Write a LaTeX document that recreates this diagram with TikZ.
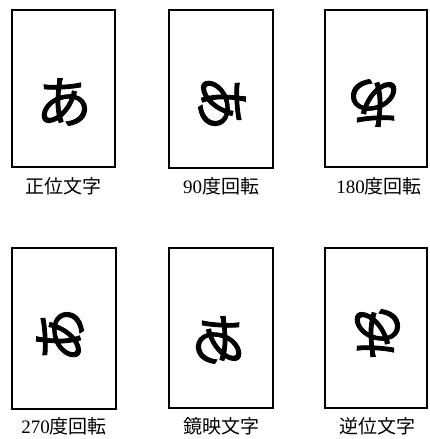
\documentclass[tikz,border=0pt]{standalone}
\usepackage{fontspec}
\newfontfamily\jp{Noto Sans CJK JP}
\newfontfamily\jpg[FakeBold=1.5]{Noto Sans CJK JP}
\newfontfamily\lserif{Liberation Serif}
\begin{document}
\begin{tikzpicture}[x=1pt,y=-1pt,
  card/.style={draw,line width=1.3pt},
  glyph/.style={inner sep=0pt,font=\jpg\fontsize{56}{56}\selectfont},
  lab/.style={inner sep=0pt,font=\fontsize{19}{19}\selectfont}]
\useasboundingbox (0,0) rectangle (429,439);
% cards
\draw[card] (12,10) rectangle (115,167);
\draw[card] (169,10) rectangle (273,168);
\draw[card] (325,10) rectangle (427,167);
\draw[card] (12,248) rectangle (116,409);
\draw[card] (169,248) rectangle (273,408);
\draw[card] (325,248) rectangle (427,408);
% glyphs
\node[glyph] (g1) at (64,102) {あ};
\node[glyph,rotate=-90] (g2) at (222,103) {あ};
\node[glyph,rotate=180] (g3) at (374,103) {あ};
\node[glyph,rotate=90] (g4) at (60,335) {あ};
\node[glyph,xscale=-1] (g5) at (219,340) {あ};
\node[glyph,yscale=-1] (g6) at (377,333) {あ};
% labels
\node[lab] (l1) at (63,186) {\jp 正位文字};
\node[lab] (l2) at (221,186) {\lserif 90\jp 度回転};
\node[lab] (l3) at (379,186) {\lserif 180\jp 度回転};
\node[lab] (l4) at (64,426.5) {\lserif 270\jp 度回転};
\node[lab] (l5) at (221,426.5) {\jp 鏡映文字};
\node[lab] (l6) at (377,426.5) {\jp 逆位文字};
\end{tikzpicture}
\end{document}
